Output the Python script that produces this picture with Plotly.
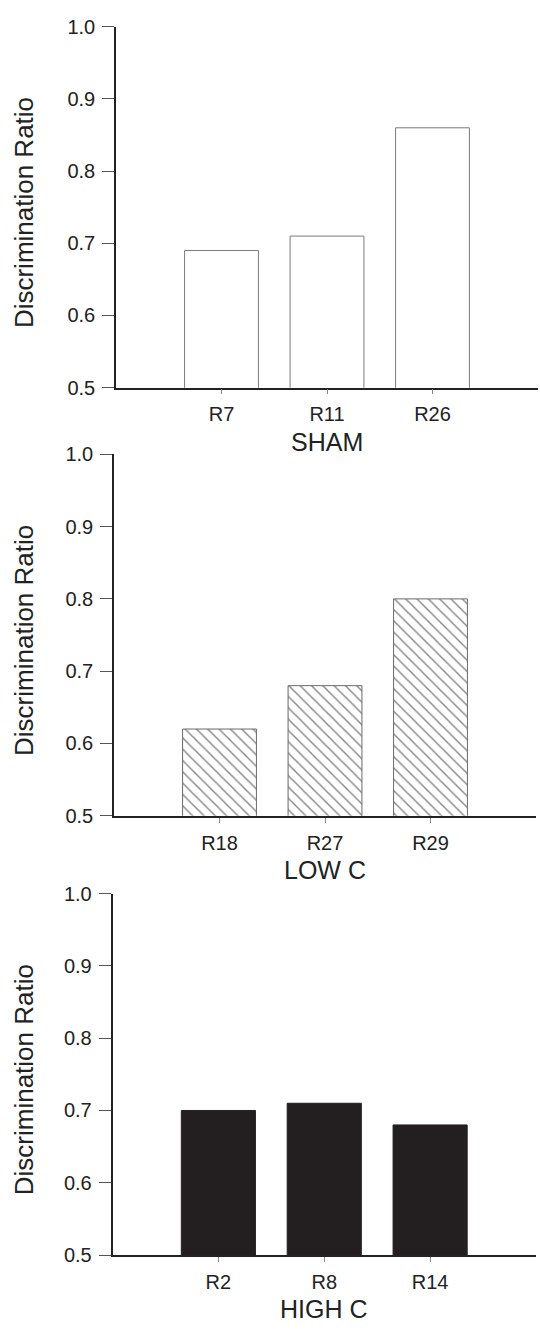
import plotly.graph_objects as go

# ---- data ----
sham_labels = ["R7", "R11", "R26"]
sham_values = [0.69, 0.71, 0.86]
lowc_labels = ["R18", "R27", "R29"]
lowc_values = [0.62, 0.68, 0.80]
highc_labels = ["R2", "R8", "R14"]
highc_values = [0.70, 0.71, 0.68]
group_names = ["SHAM", "LOW C", "HIGH C"]
y_title = "Discrimination Ratio"
y_ticks = [0.5, 0.6, 0.7, 0.8, 0.9, 1.0]

W, H = 540, 1334
FONT = "Arial, 'Liberation Sans', Helvetica, sans-serif"
TXT = "#222222"

# panel pixel geometry: (x_left, x_right, y_top, y_bottom)
panels = [(116, 538, 16, 383), (114, 536, 450.7, 818.3), (112.5, 536, 897.3, 1265)]

fig = go.Figure()

styles = [
    dict(marker=dict(color="white", line=dict(color="#7a7a7a", width=1))),
    dict(marker=dict(color="white", line=dict(color="#6a6a6a", width=1),
                     pattern=dict(shape="\\", fgcolor="#111111", bgcolor="white",
                                  size=8, solidity=0.18))),
    dict(marker=dict(color="#231f20", line=dict(color="#231f20", width=1))),
]
datasets = [(sham_labels, sham_values), (lowc_labels, lowc_values), (highc_labels, highc_values)]

layout = dict(
    width=W, height=H, margin=dict(l=0, r=0, t=0, b=0),
    paper_bgcolor="white", plot_bgcolor="white", showlegend=False,
    font=dict(family=FONT, color=TXT),
    annotations=[],
)

for i, ((labels, vals), st, (xl, xr, yt, yb)) in enumerate(zip(datasets, styles, panels)):
    k = "" if i == 0 else str(i + 1)
    fig.add_trace(go.Bar(x=labels, y=vals, width=0.7, xaxis="x" + k, yaxis="y" + k, **st))
    layout["xaxis" + k] = dict(
        domain=[xl / W, xr / W], anchor="y" + k, type="category",
        range=[-1, 3], showline=True, linecolor="#222222", linewidth=1.5,
        ticks="outside", ticklen=5, tickcolor="#888888", tickwidth=1,
        showgrid=False, zeroline=False, ticklabelstandoff=3,
        tickfont=dict(size=20, color=TXT, family=FONT),
    )
    layout["yaxis" + k] = dict(
        domain=[(H - yb) / H, (H - yt) / H], anchor="x" + k,
        range=[0.5, 1.0], tickvals=y_ticks, tickformat=".1f",
        showline=True, linecolor="#222222", linewidth=1.5,
        ticks="outside", ticklen=12, tickcolor="#555555", tickwidth=1,
        showgrid=False, zeroline=False, ticklabelstandoff=3,
        tickfont=dict(size=20, color=TXT, family=FONT),
    )
    # axis titles
    layout["annotations"].append(dict(
        text=group_names[i], x=(xl + xr) / 2 / W, y=(H - (yb + 55)) / H,
        xref="paper", yref="paper", showarrow=False, xanchor="center", yanchor="middle",
        font=dict(size=25, color=TXT, family=FONT)))
    layout["annotations"].append(dict(
        text=y_title, x=24 / W, y=(H - ((yt + yb) / 2 + 6)) / H, textangle=-90,
        xref="paper", yref="paper", showarrow=False, xanchor="center", yanchor="middle",
        font=dict(size=26, color=TXT, family=FONT)))

fig.update_layout(**layout)
fig.write_html("out.html")
